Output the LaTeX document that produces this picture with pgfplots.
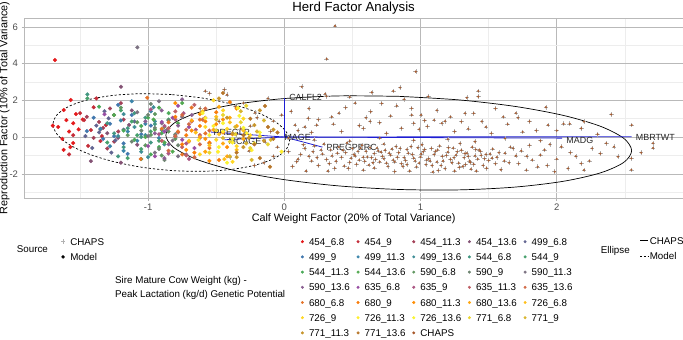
\documentclass[border=0pt]{standalone}
\usepackage{fontspec}
\setmainfont{Liberation Sans}
\usepackage{pgfplots}
\usepackage{pgfplotstable}
\pgfplotsset{compat=1.18}

% colour ramp over the seven Set1 anchors, one colour per genotype
\definecolor{m0}{RGB}{228,26,28}
\definecolor{m1}{RGB}{196,45,57}
\definecolor{m2}{RGB}{163,64,87}
\definecolor{m3}{RGB}{131,82,116}
\definecolor{m4}{RGB}{98,101,145}
\definecolor{m5}{RGB}{66,120,174}
\definecolor{m6}{RGB}{58,132,170}
\definecolor{m7}{RGB}{62,141,150}
\definecolor{m8}{RGB}{66,151,129}
\definecolor{m9}{RGB}{70,160,108}
\definecolor{m10}{RGB}{74,169,88}
\definecolor{m11}{RGB}{82,169,80}
\definecolor{m12}{RGB}{96,151,96}
\definecolor{m13}{RGB}{110,133,113}
\definecolor{m14}{RGB}{124,114,130}
\definecolor{m15}{RGB}{138,96,146}
\definecolor{m16}{RGB}{152,78,163}
\definecolor{m17}{RGB}{171,87,132}
\definecolor{m18}{RGB}{191,96,102}
\definecolor{m19}{RGB}{210,106,71}
\definecolor{m20}{RGB}{229,115,41}
\definecolor{m21}{RGB}{249,124,10}
\definecolor{m22}{RGB}{255,143,6}
\definecolor{m23}{RGB}{255,167,16}
\definecolor{m24}{RGB}{255,191,26}
\definecolor{m25}{RGB}{255,215,35}
\definecolor{m26}{RGB}{255,239,45}
\definecolor{m27}{RGB}{249,244,50}
\definecolor{m28}{RGB}{233,213,48}
\definecolor{m29}{RGB}{216,181,46}
\definecolor{m30}{RGB}{199,149,44}
\definecolor{m31}{RGB}{183,118,42}
\definecolor{chaps}{RGB}{166,86,40}
\definecolor{tickgrey}{RGB}{77,77,77}
\definecolor{vecblue}{RGB}{30,30,210}

% CHAPS herd scores (calf weight factor, reproduction factor)
\pgfplotstableread{
x y
0.372 6.05
0.311 4.25
0.965 3.56
0.128 2.74
-0.58 2.50
-0.44 2.58
-0.42 2.30
-0.55 2.38
0.642 2.43
0.80 2.50
0.85 2.69
1.424 2.50
1.424 2.20
1.34 2.14
1.057 2.20
0.31 2.22
0.48 2.18
0.715 1.83
0.634 1.38
0.825 1.70
0.935 1.56
0.935 1.20
1.004 1.20
1.03 0.90
1.10 0.92
1.327 1.29
1.39 1.29
1.608 1.10
1.30 0.84
1.18 0.86
1.156 0.75
1.64 0.70
0.58 0.47
0.63 0.85
0.70 0.78
0.86 0.48
0.99 0.42
-0.215 1.32
-0.08 0.87
0.176 1.02
0.348 1.10
0.079 0.65
0.238 0.65
2.40 1.23
1.716 1.05
1.80 0.85
1.936 0.65
2.05 0.72
2.095 0.72
2.18 0.47
2.20 0.84
0.45 1.60
0.52 1.85
0.30 2.35
0.18 1.55
-0.30 1.85
-0.12 2.10
0.05 1.40
0.42 0.30
0.20 0.25
1.25 0.30
1.48 0.55
1.52 0.20
1.75 0.28
0.75 0.20
0.10 0.35
-0.25 0.60
-0.35 0.15
1.12 1.45
0.60 1.05
1.85 0.35
2.30 0.15
0.88 2.05
0.36 0.70
1.55 1.55
0.25 0.95
0.55 0.62
0.78 1.15
1.05 0.58
1.22 1.10
1.45 0.85
1.70 1.30
2.00 0.35
0.40 1.30
0.95 0.75
1.35 0.45
0.15 0.55
1.92 1.62
2.55 0.65
-0.142 -0.26
-0.30 -0.10
0.03 -0.05
0.22 -0.15
0.48 -0.22
0.70 -0.05
0.95 -0.18
1.20 -0.12
1.40 -0.25
1.62 -0.08
1.88 -0.20
2.364 -0.34
2.42 -0.53
2.707 -0.34
2.034 -0.53
1.80 -0.45
1.68 -0.62
2.62 -0.85
0.03 -0.80
0.091 -1.34
0.15 -0.62
0.18 -1.05
0.22 -0.48
0.25 -1.55
0.28 -0.92
0.31 -1.22
0.34 -0.70
0.37 -1.70
0.40 -0.55
0.42 -1.10
0.45 -0.85
0.48 -1.38
0.50 -0.62
0.52 -1.02
0.55 -1.25
0.57 -0.45
0.60 -0.78
0.62 -1.52
0.64 -1.12
0.66 -0.90
0.68 -0.60
0.70 -1.35
0.72 -1.05
0.74 -0.72
0.76 -1.60
0.78 -0.98
0.80 -1.25
0.82 -0.52
0.84 -0.85
0.86 -1.45
0.88 -1.12
0.90 -0.68
0.92 -1.85
0.94 -0.95
0.96 -1.30
0.98 -0.58
1.00 -1.08
1.02 -0.80
1.04 -1.50
1.06 -1.18
1.08 -0.62
1.10 -0.95
1.12 -1.35
1.14 -0.48
1.16 -1.05
1.18 -1.72
1.20 -0.82
1.22 -1.22
1.24 -0.60
1.26 -0.98
1.28 -1.42
1.30 -0.72
1.32 -1.12
1.34 -0.88
1.36 -1.30
1.38 -0.55
1.40 -1.02
1.42 -1.20
1.44 -0.78
1.46 -1.55
1.48 -0.95
1.50 -1.28
1.53 -0.65
1.56 -1.10
1.59 -1.78
1.62 -0.88
1.65 -1.40
1.70 -1.02
1.74 -0.75
1.777 -1.80
1.82 -1.25
1.88 -0.98
1.93 -1.55
1.985 -1.89
2.083 -1.71
2.18 -1.44
2.20 -1.80
2.45 -1.07
2.548 -1.16
2.548 -1.79
2.10 -0.85
2.26 -0.62
1.95 -0.40
0.12 -0.95
0.20 -1.30
0.27 -0.70
0.33 -1.45
0.39 -0.88
0.44 -1.58
0.49 -1.15
0.54 -0.78
0.59 -1.32
0.63 -0.58
0.67 -1.22
0.71 -0.82
0.75 -1.42
0.79 -0.65
0.83 -1.10
0.87 -1.60
0.91 -0.88
0.95 -1.15
0.99 -1.42
1.03 -0.68
1.07 -1.30
1.11 -0.78
1.15 -1.55
1.19 -1.00
1.23 -1.40
1.27 -0.80
1.31 -1.60
1.35 -1.05
1.39 -1.48
1.43 -0.70
1.47 -1.18
1.51 -0.92
1.55 -1.45
0.06 -1.60
0.16 -1.85
0.58 -1.80
0.81 -1.88
1.09 -1.90
1.37 -1.75
1.25 -1.85
0.46 -0.32
0.73 -0.38
1.01 -0.42
1.29 -0.35
0.14 -0.42
0.24 -1.12
0.29 -0.38
0.35 -1.02
0.38 -1.32
0.43 -0.72
0.47 -1.70
0.51 -0.95
0.53 -1.48
0.56 -0.60
0.61 -1.08
0.65 -1.40
0.69 -0.75
0.73 -1.18
0.77 -0.88
0.81 -1.35
0.85 -0.62
0.89 -1.28
0.93 -0.52
0.97 -1.62
1.005 -0.92
1.045 -1.25
1.085 -1.55
1.125 -0.70
1.165 -1.30
1.205 -0.58
1.245 -1.12
1.285 -1.65
1.325 -0.90
1.365 -1.38
1.405 -0.68
1.445 -1.00
1.485 -1.70
1.525 -1.15
1.575 -0.85
1.615 -1.30
1.66 -0.55
1.72 -1.45
1.78 -1.05
1.86 -1.62
1.91 -0.70
2.00 -1.20
2.14 -1.05
2.24 -1.30
2.32 -0.90
0.10 -1.20
0.21 -0.80
0.32 -1.85
0.58 -1.10
0.66 -1.68
0.90 -1.50
1.13 -1.82
1.33 -1.50
1.41 -1.85
-0.55 -0.35
-0.48 0.85
-0.40 -1.10
-0.32 0.45
-0.26 -0.75
-0.20 1.05
-0.15 -1.40
-0.10 0.30
-0.05 -0.55
-0.02 1.20
-0.62 1.55
-0.36 1.65
-0.22 -1.55
-0.08 -1.05
2.707 -0.60
}\chapsdata

\pgfplotsset{
  modelpt/.style={only marks, mark=*, mark size=1.9pt, mark options={line width=0.3pt}},
  vec/.style={vecblue, line width=0.8pt},
  keylegend/.style={
    scale only axis, width=1pt, height=1pt, hide axis,
    xmin=0, xmax=1, ymin=0, ymax=1,
    legend style={at={(0,1)}, anchor=north west, draw=none, fill=none,
      inner sep=0pt, outer sep=0pt, font=\fontsize{9.8}{10}\selectfont,
      cells={anchor=west},
      nodes={inner sep=0pt, text height=7pt, text depth=0pt}},
  },
}
\tikzset{
  lab/.style={anchor=west, inner sep=0pt, text=black!85, font=\fontsize{8.9}{9}\selectfont},
}

\begin{document}
\begin{tikzpicture}[x=1pt,y=1pt]
\path[use as bounding box] (0,0) rectangle (683,340);

\begin{axis}[
  at={(24.3pt,142pt)}, anchor=south west,
  scale only axis, width=658.7pt, height=180pt,
  xmin=-1.909, xmax=2.927, ymin=-3.32, ymax=6.48,
  xtick={-1,0,1,2}, xticklabels={-1,0,1,2},
  ytick={-2,0,2,4,6}, yticklabels={-2,0,2,4,6},
  minor xtick={-1.5,-0.5,0.5,1.5,2.5},
  minor ytick={-3,-1,1,3,5},
  grid=both,
  major grid style={gray!55, line width=0.5pt},
  minor grid style={gray!14, line width=0.4pt},
  axis line style={gray!55, line width=0.5pt},
  tick align=outside, tickpos=left,
  major tick length=2.75pt, minor tick length=0pt,
  tick style={gray!60, line width=0.5pt},
  ticklabel style={font=\fontsize{9.5}{10}\selectfont, text=tickgrey},
  clip=true,
]
% CHAPS herds: grey cross with a brown centre
\addplot[only marks, mark=+, mark size=2.3pt, gray!60, line width=0.5pt] table {\chapsdata};
\addplot[only marks, mark=*, mark size=0.9pt, chaps, opacity=0.85] table {\chapsdata};

% simulated herds by sire genotype
\addplot[modelpt, m0] coordinates {(-1.684,4.19) (-1.62,1.47) (-1.568,2.01) (-1.60,0.92) (-1.55,0.75) (-1.66,0.55) (-1.51,0.42) (-1.58,0.30) (-1.63,-0.10) (-1.55,-0.33) (-1.62,-0.70) (-1.57,-0.55) (-1.70,0.62) (-1.48,0.95) (-1.53,1.25)};
\addplot[modelpt, m1] coordinates {(-1.38,2.10) (-1.47,0.92) (-1.42,0.38) (-1.55,0.10) (-1.35,-0.22) (-1.44,-0.48) (-1.31,0.65) (-1.50,1.30) (-1.40,1.62) (-1.34,0.05) (-1.58,-0.95)};
\addplot[modelpt, m2] coordinates {(-1.28,1.55) (-1.36,0.82) (-1.22,0.30) (-1.40,-0.05) (-1.30,-0.62) (-1.18,0.95) (-1.45,1.10) (-1.25,-0.25) (-1.33,0.50) (-1.20,1.85)};
\addplot[modelpt, m3] coordinates {(-1.199,2.74) (-1.42,-1.31) (-1.20,-1.40) (-1.30,0.20) (-1.14,0.66) (-1.25,1.20) (-1.08,-0.42) (-1.35,0.42) (-1.12,1.45) (-1.22,-0.05)};
\addplot[modelpt, m4] coordinates {(-1.46,0.05) (-1.38,0.62) (-1.29,1.02) (-1.24,-0.18) (-1.41,-0.60) (-1.18,0.40) (-1.32,1.40) (-1.10,0.85) (-1.27,-0.85) (-1.36,0.25)};
\addplot[modelpt, m5] coordinates {(-1.45,0.32) (-1.28,0.72) (-1.18,-0.35) (-1.33,-0.10) (-1.12,1.20) (-1.22,1.75) (-1.40,1.05) (-1.05,0.15) (-1.25,0.05) (-1.15,-0.92) (-0.98,0.62)};
\addplot[modelpt, m6] coordinates {(-1.35,0.45) (-1.20,0.90) (-1.08,-0.20) (-1.15,0.30) (-0.98,1.40) (-1.28,-0.50) (-1.02,0.72) (-1.12,1.95) (-0.92,-0.05) (-1.18,-0.75)};
\addplot[modelpt, m7] coordinates {(-1.10,0.55) (-1.02,0.10) (-0.95,0.85) (-1.18,1.25) (-0.88,-0.40) (-1.05,-0.80) (-0.96,1.62) (-1.22,0.05) (-0.90,0.38) (-1.00,-1.10)};
\addplot[modelpt, m8] coordinates {(-1.446,2.32) (-1.25,0.20) (-1.18,-0.55) (-1.10,1.30) (-1.30,0.75) (-1.05,0.00) (-0.98,-0.30) (-1.15,0.48) (-1.22,-1.05) (-1.02,1.05) (-0.95,0.70)};
\addplot[modelpt, m9] coordinates {(-1.446,2.10) (-1.30,-0.30) (-1.12,0.85) (-1.05,-0.65) (-0.98,0.30) (-1.20,1.45) (-0.92,-0.20) (-1.08,0.10) (-0.85,0.95) (-1.15,-1.15)};
\addplot[modelpt, m10] coordinates {(-1.36,1.65) (-1.05,0.60) (-0.98,-0.95) (-0.90,0.20) (-1.10,-0.15) (-0.85,1.30) (-1.00,1.05) (-0.92,-0.55) (-1.18,0.35) (-0.80,0.05)};
\addplot[modelpt, m11] coordinates {(-1.25,1.20) (-0.95,0.40) (-0.88,-0.30) (-1.05,-1.20) (-0.78,0.75) (-0.92,1.60) (-1.02,0.00) (-0.82,-0.80) (-0.96,0.95) (-0.75,1.85)};
\addplot[modelpt, m12] coordinates {(-1.15,0.10) (-1.02,-0.45) (-0.95,1.25) (-0.88,0.55) (-1.08,0.80) (-0.80,-0.10) (-0.90,-1.00) (-1.20,1.60) (-0.85,0.30) (-0.98,0.12)};
\addplot[modelpt, m13] coordinates {(-1.05,0.35) (-0.92,-0.65) (-0.98,1.80) (-0.85,0.90) (-1.12,-0.25) (-0.80,0.15) (-0.88,-1.25) (-0.95,0.50) (-1.00,1.20) (-0.78,-0.45)};
\addplot[modelpt, m14] coordinates {(-1.079,4.88) (-1.00,0.05) (-0.90,0.75) (-0.82,-0.20) (-0.95,-0.85) (-0.75,1.10) (-1.08,1.35) (-0.86,0.40) (-0.78,-1.05) (-0.92,1.95)};
\addplot[modelpt, m15] coordinates {(-0.95,0.20) (-0.85,-0.40) (-0.78,0.62) (-0.90,1.45) (-0.72,-0.95) (-1.02,0.85) (-0.80,0.05) (-0.68,1.20) (-0.88,-1.15) (-0.75,2.05)};
\addplot[modelpt, m16] coordinates {(-1.32,1.24) (-1.00,-0.50) (-0.88,0.30) (-0.75,-0.15) (-0.82,1.05) (-0.70,0.55) (-0.95,-1.05) (-0.66,-0.60) (-0.78,1.70) (-0.90,0.82)};
\addplot[modelpt, m17] coordinates {(-0.92,0.15) (-0.80,0.95) (-0.72,-0.35) (-0.85,-0.90) (-0.65,0.40) (-0.98,1.50) (-0.74,1.30) (-0.62,-0.05) (-0.88,0.60) (-0.70,-1.20)};
\addplot[modelpt, m18] coordinates {(-0.85,0.48) (-0.75,-0.55) (-0.68,0.85) (-0.80,1.40) (-0.62,0.10) (-0.90,-0.20) (-0.58,1.05) (-0.72,-1.00) (-0.78,0.25) (-0.66,1.75)};
\addplot[modelpt, m19] coordinates {(-0.80,0.05) (-0.70,0.70) (-0.62,-0.40) (-0.75,1.20) (-0.55,0.35) (-0.85,-0.75) (-0.66,-1.10) (-0.58,1.55) (-0.72,0.40) (-0.60,0.95)};
\addplot[modelpt, m20] coordinates {(-1.006,2.14) (-1.054,-1.20) (-0.78,0.30) (-0.70,-0.25) (-0.62,0.95) (-0.85,0.80) (-0.55,-0.60) (-0.68,1.60) (-0.75,-0.95) (-0.58,0.20) (-0.90,0.45)};
\addplot[modelpt, m21] coordinates {(-0.72,0.10) (-0.62,0.60) (-0.55,-0.30) (-0.80,1.10) (-0.50,1.35) (-0.66,-0.85) (-0.45,0.25) (-0.75,-0.40) (-0.58,0.85) (-0.48,-1.25) (-0.40,1.90)};
\addplot[modelpt, m22] coordinates {(-0.68,0.35) (-0.58,-0.10) (-0.50,0.70) (-0.42,-0.55) (-0.62,1.25) (-0.45,0.95) (-0.72,-0.70) (-0.38,0.15) (-0.55,-1.30) (-0.35,1.55) (-0.80,1.85)};
\addplot[modelpt, m23] coordinates {(-0.62,0.00) (-0.52,0.40) (-0.45,-0.35) (-0.40,1.05) (-0.58,-0.80) (-0.35,0.60) (-0.68,0.90) (-0.30,-0.10) (-0.48,1.65) (-0.42,-1.05)};
\addplot[modelpt, m24] coordinates {(-0.65,0.25) (-0.55,-0.45) (-0.48,0.15) (-0.40,0.80) (-0.60,1.40) (-0.35,-0.70) (-0.50,1.10) (-0.30,0.35) (-0.44,-1.20) (-0.70,-0.20)};
\addplot[modelpt, m25] coordinates {(-0.58,0.55) (-0.50,-0.15) (-0.42,0.45) (-0.35,-0.50) (-0.62,-0.95) (-0.30,1.00) (-0.45,1.45) (-0.25,0.10) (-0.52,2.00) (-0.38,-1.35)};
\addplot[modelpt, m26] coordinates {(-0.63,-0.16) (-0.487,-0.80) (-0.24,-0.71) (-0.276,0.20) (-0.34,1.58) (-0.02,-0.80) (-0.58,1.03) (-0.45,0.30) (-0.38,-0.30) (-0.52,0.60)};
\addplot[modelpt, m27] coordinates {(-0.55,0.10) (-0.45,0.75) (-0.38,-0.10) (-0.30,0.50) (-0.48,-0.55) (-0.22,-0.35) (-0.60,1.30) (-0.33,1.15) (-0.42,-1.40) (-0.18,0.25)};
\addplot[modelpt, m28] coordinates {(-0.50,0.35) (-0.40,-0.25) (-0.32,0.80) (-0.25,-0.60) (-0.45,1.20) (-0.18,0.05) (-0.55,-0.85) (-0.28,1.70) (-0.36,0.15) (-0.12,-0.40)};
\addplot[modelpt, m29] coordinates {(-0.45,-0.05) (-0.36,0.55) (-0.28,-0.35) (-0.20,0.30) (-0.40,-1.05) (-0.15,0.90) (-0.50,0.95) (-0.24,-1.25) (-0.32,1.40) (-0.10,-0.15)};
\addplot[modelpt, m30] coordinates {(-0.38,0.20) (-0.30,-0.55) (-0.22,0.65) (-0.15,-0.20) (-0.42,1.05) (-0.08,0.40) (-0.35,-1.10) (-0.18,1.45) (-0.26,-0.05) (-0.48,2.10)};
\addplot[modelpt, m31] coordinates {(-0.142,1.69) (-0.105,-1.62) (-0.45,2.40) (-0.30,0.10) (-0.22,-0.40) (-0.12,0.55) (-0.35,-0.85) (-0.08,-0.10) (-0.25,1.00) (-0.18,-1.15) (-0.05,0.25)};

% 95% ellipses: CHAPS solid, model dashed
\addplot[black, line width=0.7pt, smooth] coordinates {
 (0.84,2.215) (0.397,2.238) (-0.015,2.085) (-0.369,1.77) (-0.641,1.312) (-0.812,0.742)
 (-0.87,0.10) (-0.812,-0.57) (-0.641,-1.224) (-0.369,-1.816) (-0.015,-2.305) (0.397,-2.66)
 (0.84,-2.855) (1.283,-2.878) (1.695,-2.725) (2.049,-2.41) (2.321,-1.952) (2.492,-1.382)
 (2.55,-0.74) (2.492,-0.07) (2.321,0.584) (2.049,1.176) (1.695,1.665) (1.283,2.02) (0.84,2.215)};
\addplot[black, line width=0.7pt, dash pattern=on 2.2pt off 2pt, smooth] coordinates {
 (-0.83,2.312) (-1.055,2.358) (-1.264,2.26) (-1.444,2.025) (-1.582,1.669) (-1.668,1.215)
 (-1.698,0.695) (-1.668,0.145) (-1.582,-0.399) (-1.444,-0.899) (-1.264,-1.32) (-1.055,-1.636)
 (-0.83,-1.822) (-0.605,-1.868) (-0.396,-1.77) (-0.216,-1.535) (-0.078,-1.179) (0.008,-0.725)
 (0.038,-0.205) (0.008,0.345) (-0.078,0.889) (-0.216,1.389) (-0.396,1.81) (-0.605,2.126) (-0.83,2.312)};

% trait loadings
\addplot[vec] coordinates {(0,0) (0,2.12)};
\addplot[vec] coordinates {(0,0) (2.55,0.02)};
\addplot[vec] coordinates {(0,0) (2.04,-0.06)};
\addplot[vec] coordinates {(0,0) (0.28,-0.55)};
\addplot[vec] coordinates {(0,0) (-0.54,0.27)};
\addplot[vec] coordinates {(0,0) (-0.44,-0.15)};
\addplot[vec] coordinates {(0,0) (0.02,0.03)};

\node[lab] at (axis cs:0.035,2.14) {CALFL2};
\node[lab] at (axis cs:0.0,-0.04) {MAGE};
\node[lab] at (axis cs:-0.52,0.26) {PREGLP};
\node[lab] at (axis cs:-0.41,-0.22) {MCAGE};
\node[lab] at (axis cs:0.31,-0.58) {PREGPERC};
\node[lab] at (axis cs:2.07,-0.18) {MADG};
\node[lab] at (axis cs:2.58,-0.04) {MBRTWT};
\end{axis}

% titles
\node[anchor=base, inner sep=0pt, font=\fontsize{13.2}{14}\selectfont] at (353.6,328.3) {Herd Factor Analysis};
\node[anchor=base, inner sep=0pt, font=\fontsize{10.8}{12}\selectfont] at (353.6,118.3) {Calf Weight Factor (20\% of Total Variance)};
\node[anchor=base, rotate=90, inner sep=0pt, font=\fontsize{10.8}{12}\selectfont] at (7.3,232) {Reproduction Factor (10\% of Total Variance)};

% legend titles
\node[anchor=base west, inner sep=0pt, font=\fontsize{9.8}{10}\selectfont] at (16.7,87.2) {Source};
\node[anchor=west, inner sep=0pt, align=left, font=\fontsize{9.8}{13.4}\selectfont] at (115,52) {Sire Mature Cow Weight (kg) -\\Peak Lactation (kg/d) Genetic Potential};
\node[anchor=base west, inner sep=0pt, font=\fontsize{9.8}{10}\selectfont] at (600.7,86.8) {Ellipse};

% legend: source
\begin{axis}[
  keylegend, at={(60.8pt,101.8pt)}, anchor=north west,
  legend image code/.code={\draw[#1] plot coordinates {(0pt,0pt)};},
  legend style={row sep=8.2pt,
    /tikz/every odd column/.append style={column sep=4.9pt}},
]
\addlegendimage{mark=+, mark size=2.3pt, gray!60, line width=0.5pt}
\addlegendentry{CHAPS}
\addlegendimage{mark=*, mark size=1.5pt, black}
\addlegendentry{Model}
\end{axis}

% legend: genotype colours
\begin{axis}[
  keylegend, at={(301.1pt,101.8pt)}, anchor=north west,
  legend columns=5,
  legend image code/.code={\draw[#1] plot coordinates {(0pt,0pt)};},
  legend style={row sep=8.2pt,
    /tikz/every odd column/.append style={column sep=5.3pt},
    /tikz/every even column/.append style={column sep=6.9pt}},
]
\addlegendimage{mark=*, mark size=1.3pt, m0} \addlegendentry{454\_6.8}
\addlegendimage{mark=*, mark size=1.3pt, m1} \addlegendentry{454\_9}
\addlegendimage{mark=*, mark size=1.3pt, m2} \addlegendentry{454\_11.3}
\addlegendimage{mark=*, mark size=1.3pt, m3} \addlegendentry{454\_13.6}
\addlegendimage{mark=*, mark size=1.3pt, m4} \addlegendentry{499\_6.8}
\addlegendimage{mark=*, mark size=1.3pt, m5} \addlegendentry{499\_9}
\addlegendimage{mark=*, mark size=1.3pt, m6} \addlegendentry{499\_11.3}
\addlegendimage{mark=*, mark size=1.3pt, m7} \addlegendentry{499\_13.6}
\addlegendimage{mark=*, mark size=1.3pt, m8} \addlegendentry{544\_6.8}
\addlegendimage{mark=*, mark size=1.3pt, m9} \addlegendentry{544\_9}
\addlegendimage{mark=*, mark size=1.3pt, m10} \addlegendentry{544\_11.3}
\addlegendimage{mark=*, mark size=1.3pt, m11} \addlegendentry{544\_13.6}
\addlegendimage{mark=*, mark size=1.3pt, m12} \addlegendentry{590\_6.8}
\addlegendimage{mark=*, mark size=1.3pt, m13} \addlegendentry{590\_9}
\addlegendimage{mark=*, mark size=1.3pt, m14} \addlegendentry{590\_11.3}
\addlegendimage{mark=*, mark size=1.3pt, m15} \addlegendentry{590\_13.6}
\addlegendimage{mark=*, mark size=1.3pt, m16} \addlegendentry{635\_6.8}
\addlegendimage{mark=*, mark size=1.3pt, m17} \addlegendentry{635\_9}
\addlegendimage{mark=*, mark size=1.3pt, m18} \addlegendentry{635\_11.3}
\addlegendimage{mark=*, mark size=1.3pt, m19} \addlegendentry{635\_13.6}
\addlegendimage{mark=*, mark size=1.3pt, m20} \addlegendentry{680\_6.8}
\addlegendimage{mark=*, mark size=1.3pt, m21} \addlegendentry{680\_9}
\addlegendimage{mark=*, mark size=1.3pt, m22} \addlegendentry{680\_11.3}
\addlegendimage{mark=*, mark size=1.3pt, m23} \addlegendentry{680\_13.6}
\addlegendimage{mark=*, mark size=1.3pt, m24} \addlegendentry{726\_6.8}
\addlegendimage{mark=*, mark size=1.3pt, m25} \addlegendentry{726\_9}
\addlegendimage{mark=*, mark size=1.3pt, m26} \addlegendentry{726\_11.3}
\addlegendimage{mark=*, mark size=1.3pt, m27} \addlegendentry{726\_13.6}
\addlegendimage{mark=*, mark size=1.3pt, m28} \addlegendentry{771\_6.8}
\addlegendimage{mark=*, mark size=1.3pt, m29} \addlegendentry{771\_9}
\addlegendimage{mark=*, mark size=1.3pt, m30} \addlegendentry{771\_11.3}
\addlegendimage{mark=*, mark size=1.3pt, m31} \addlegendentry{771\_13.6}
\addlegendimage{mark=*, mark size=1.3pt, chaps} \addlegendentry{CHAPS}
\end{axis}

% legend: ellipse line types
\begin{axis}[
  keylegend, at={(640pt,102.8pt)}, anchor=north west,
  legend image code/.code={\draw[#1] (0pt,0pt) -- (7.3pt,0pt);},
  legend style={row sep=8.6pt,
    /tikz/every odd column/.append style={column sep=1.8pt}},
]
\addlegendimage{black, line width=0.7pt}
\addlegendentry{CHAPS}
\addlegendimage{black, line width=0.7pt, dash pattern=on 2pt off 1.6pt}
\addlegendentry{Model}
\end{axis}
\end{tikzpicture}
\end{document}
